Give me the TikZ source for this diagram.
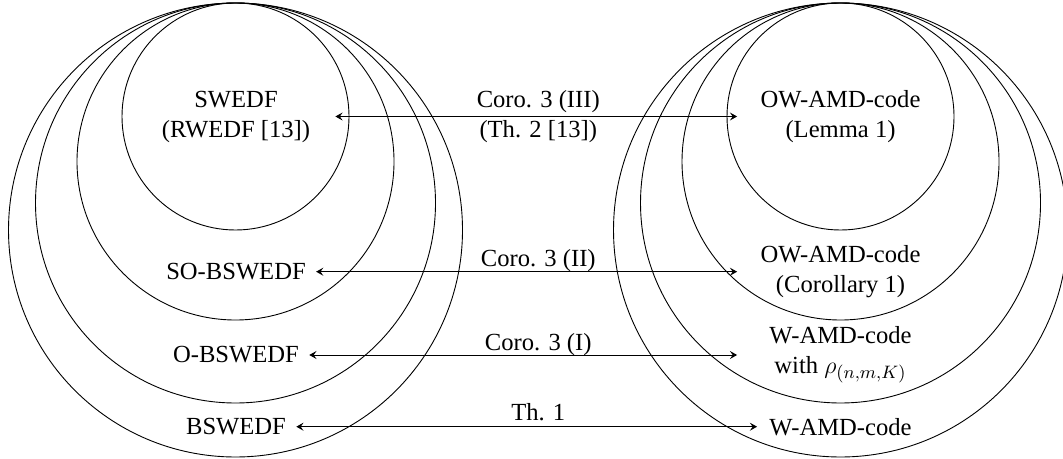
\documentclass[tikz,border=0pt]{standalone}
\usepackage{fontspec}
\setmainfont{Liberation Serif}
\usetikzlibrary{arrows.meta}
\begin{document}
\begin{tikzpicture}[x=0.5pt,y=-0.5pt,
  every node/.style={font=\fontsize{12.3}{15}\selectfont},
  setnode/.style={align=center, inner sep=5pt},
  widenode/.style={setnode, minimum width=103pt},
  lbl/.style={inner sep=0pt, anchor=base, yshift=2.5pt},
  lbltwo/.style={inner sep=0pt, align=center},
  circ/.style={draw, line width=0.45pt},
  arr/.style={{Stealth[length=3.6pt,width=4pt,inset=1.4pt]}-{Stealth[length=3.6pt,width=4pt,inset=1.4pt]}, line width=0.5pt}]
\useasboundingbox (0,0) rectangle (1063,459);
% left family of sets
\draw[circ] (235.5,116.5) circle [radius=56.75pt];
\draw[circ] (235.5,161.5) circle [radius=79.25pt];
\draw[circ] (235.5,203) circle [radius=100pt];
\draw[circ] (235.5,230) circle [radius=113.5pt];
% right family of sets
\draw[circ] (840.5,116.5) circle [radius=56.75pt];
\draw[circ] (840.5,161.5) circle [radius=79.25pt];
\draw[circ] (840.5,203) circle [radius=100pt];
\draw[circ] (840.5,230) circle [radius=113.5pt];
% nodes
\node[setnode, minimum width=99pt] (L1) at (236,116.5) {SWEDF\\(RWEDF [13])};
\node[widenode] (R1) at (840.5,116.5) {OW-AMD-code\\(Lemma 1)};
\node[setnode] (L2) at (236,271.7) {SO-BSWEDF};
\node[widenode] (R2) at (840.5,271.7) {OW-AMD-code\\(Corollary 1)};
\node[setnode] (L3) at (236,355) {O-BSWEDF};
\node[widenode] (R3) at (840.5,355) {W-AMD-code\\with $\rho_{(n,m,K)}$};
\node[setnode] (L4) at (236,426.7) {BSWEDF};
\node[setnode, inner xsep=6pt] (R4) at (840.5,426.7) {W-AMD-code};
% connectors
\draw[arr] (L1) -- (R1);
\draw[arr] (L2) -- (R2);
\draw[arr] (L3) -- (R3);
\draw[arr] (L4) -- (R4);
% labels
\path (L1.center) -- node[lbltwo] (T1) {Coro. 3 (III)\\(Th. 2 [13])} (R1.center);
\path (L2.center) -- node[lbl] (T2) {Coro. 3 (II)} (R2.center);
\path (L3.center) -- node[lbl] (T3) {Coro. 3 (I)} (R3.center);
\path (L4.center) -- node[lbl, yshift=0.6pt] (T4) {Th. 1} (R4.center);
\end{tikzpicture}
\end{document}
